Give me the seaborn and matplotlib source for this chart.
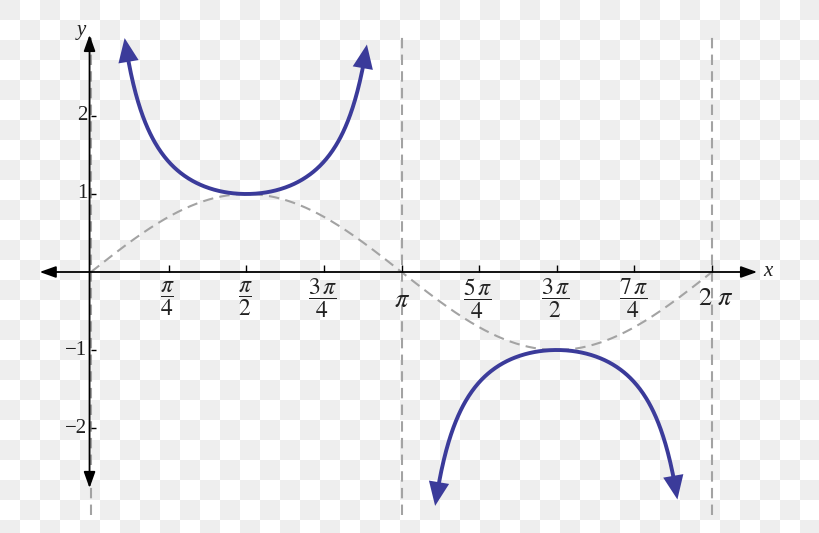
import matplotlib
matplotlib.use("Agg")
import matplotlib.pyplot as plt
import seaborn as sns
import numpy as np
import pandas as pd

# --- chart data ---
# tick positions along the x axis (multiples of pi/4) and their labels
x_ticks = [np.pi / 4, np.pi / 2, 3 * np.pi / 4, 5 * np.pi / 4, 3 * np.pi / 2, 7 * np.pi / 4]
x_tick_labels = [r'$\dfrac{\pi}{4}$', r'$\dfrac{\pi}{2}$', r'$\dfrac{3\,\pi}{4}$',
                 r'$\dfrac{5\,\pi}{4}$', r'$\dfrac{3\,\pi}{2}$', r'$\dfrac{7\,\pi}{4}$']
big_ticks = [np.pi, 2 * np.pi]
big_tick_labels = [r'$\pi$', r'$2\ \pi$']
y_ticks = [-2, -1, 1, 2]
y_tick_labels = ['\u22122', '\u22121', '1', '2']
asymptotes = [0, np.pi, 2 * np.pi]

# branches of csc(x) as drawn (x ranges)
branch_ranges = [(0.34, np.pi - 0.35), (np.pi + 0.34, 2 * np.pi - 0.35)]

CURVE = '#3b3b9a'
DASH = '#a3a3a3'
TXT = '#222222'

sns.set_style('white')
plt.rcParams['font.family'] = ['Liberation Serif', 'DejaVu Serif']
plt.rcParams['mathtext.fontset'] = 'stix'

fig = plt.figure(figsize=(8.2, 5.33), dpi=100)

# transparency-style checkerboard background (20 px squares)
h, w = 533, 820
yy, xx = np.mgrid[0:h, 0:w]
check = np.where(((xx // 20) + (yy // 20)) % 2 == 0, 0.935, 1.0)
fig.figimage(np.dstack([check, check, check]), xo=0, yo=0, origin='upper', zorder=-10)

ax = fig.add_axes([0, 0, 1, 1])
ax.set_zorder(5)
ax.patch.set_alpha(0)
ax.set_xlim(-0.921, 7.376)
ax.set_ylim(-3.346, 3.487)
ax.axis('off')

# dashed sine curve
xs = np.linspace(0, 2 * np.pi, 400)
sine = pd.DataFrame({'x': xs, 'y': np.sin(xs)})
sns.lineplot(data=sine, x='x', y='y', ax=ax, color=DASH, lw=1.5,
             linestyle=(0, (5, 3)), zorder=2)

# dashed vertical asymptotes
ax.vlines(asymptotes, -3.115, 3.06, colors=DASH, lw=1.5, linestyles=(0, (5, 3)), zorder=2)

# coordinate axes with arrows
arrow_axis = dict(arrowstyle='<|-|>,head_length=0.7,head_width=0.25',
                  color='black', lw=1.3, mutation_scale=14, shrinkA=0, shrinkB=0)
ax.annotate('', xy=(6.74, 0), xytext=(-0.52, 0), arrowprops=arrow_axis, zorder=3)
ax.annotate('', xy=(-0.015, 3.04), xytext=(-0.015, -2.77), arrowprops=arrow_axis, zorder=3)

# tick marks
ax.vlines(x_ticks + big_ticks, 0, 0.09, colors='black', lw=1.0, zorder=3)
ax.hlines(y_ticks, 0, 0.05, colors='black', lw=1.0, zorder=3)

# tick labels
for xt, lab in zip(x_ticks, x_tick_labels):
    ax.text(xt - 0.01, -0.34, lab, ha='center', va='center', fontsize=17, color=TXT)
ax.text(big_ticks[0] + 0.01, -0.37, big_tick_labels[0], ha='center', va='center',
        fontsize=19, color=TXT)
ax.text(big_ticks[1] + 0.04, -0.35, big_tick_labels[1], ha='center', va='center',
        fontsize=19, color=TXT)
for yt, lab in zip(y_ticks, y_tick_labels):
    ax.text(-0.04, yt, lab, ha='right', va='center', fontsize=15, color=TXT)

ax.text(6.80, 0.0, 'x', ha='left', va='center', fontsize=15, style='italic', color=TXT)
ax.text(-0.10, 3.10, 'y', ha='center', va='center', fontsize=15, style='italic', color=TXT)

# csc branches with arrowheads at both ends
for a, b in branch_ranges:
    xb = np.linspace(a + 0.015, b - 0.015, 300)
    branch = pd.DataFrame({'x': xb, 'y': 1 / np.sin(xb)})
    sns.lineplot(data=branch, x='x', y='y', ax=ax, color=CURVE, lw=2.8, zorder=4)
    for tip, back in [(a, a + 0.035), (b, b - 0.035)]:
        ax.annotate('', xy=(tip, 1 / np.sin(tip)), xytext=(back, 1 / np.sin(back)),
                    arrowprops=dict(arrowstyle='-|>,head_length=0.75,head_width=0.32',
                                    color=CURVE, lw=0, mutation_scale=23,
                                    shrinkA=0, shrinkB=0), zorder=5)

ax.set_xlabel('')
ax.set_ylabel('')
fig.savefig('out.png', dpi=100)
